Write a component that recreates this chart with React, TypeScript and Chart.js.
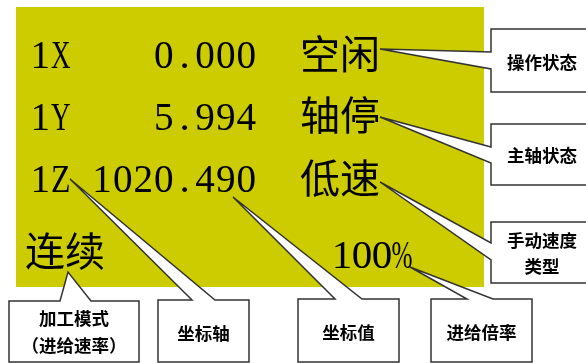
import React, { useEffect, useRef } from "react";
import { Chart, registerables } from "chart.js";

Chart.register(...registerables);

// LCD display content (monospaced rows)
const lcdRows: string[] = ["1X    0.000", "1Y    5.994", "1Z 1020.490"];
const lcdStatus: string[] = ["空闲", "轴停", "低速"];
const lcdMode = "连续";
const lcdOverride = "100%";

// Callout labels
const calloutLabels: string[][] = [
  ["操作状态"],
  ["主轴状态"],
  ["手动速度", "类型"],
  ["进给倍率"],
  ["坐标值"],
  ["坐标轴"],
  ["加工模式", "（进给速率）"],
];

type Callout = {
  box: [number, number, number, number]; // x0,y0,x1,y1
  side: "left" | "top";
  base: [number, number];
  tip: [number, number];
  lines: number[];
};

const calloutLayout: Callout[] = [
  { box: [491, 29, 590, 92], side: "left", base: [52, 69], tip: [380, 49], lines: [62] },
  { box: [491, 124, 590, 185], side: "left", base: [147, 163], tip: [380, 117], lines: [155] },
  { box: [491, 222, 590, 283], side: "left", base: [243, 260], tip: [380, 182], lines: [240, 266] },
  { box: [431, 299, 532, 362], side: "top", base: [467, 493], tip: [410, 267], lines: [332] },
  { box: [298, 299, 399, 362], side: "top", base: [335, 362], tip: [233, 197], lines: [332] },
  { box: [158, 300, 249, 362], side: "top", base: [192, 215], tip: [70, 179], lines: [333] },
  { box: [9, 301, 139, 362], side: "top", base: [60, 91], tip: [68, 272], lines: [318, 345] },
];

export default function App() {
  const ref = useRef<HTMLCanvasElement | null>(null);

  useEffect(() => {
    document.body.style.margin = "0";
    const canvas = ref.current!;
    const drawPlugin = {
      id: "lcdDiagram",
      beforeDraw(chart: any) {
        const ctx = chart.ctx as CanvasRenderingContext2D;
        const xs = chart.scales.x;
        const ys = chart.scales.y;
        const X = (v: number) => xs.getPixelForValue(v);
        const Y = (v: number) => ys.getPixelForValue(v);
        ctx.save();
        ctx.fillStyle = "#ffffff";
        ctx.fillRect(0, 0, chart.width, chart.height);

        // LCD panel
        ctx.fillStyle = "#CCCC00";
        ctx.fillRect(X(16), Y(7), X(484) - X(16), Y(287) - Y(7));

        // Monospaced serif rows
        ctx.fillStyle = "#000";
        ctx.textBaseline = "alphabetic";
        ctx.textAlign = "center";
        ctx.font = "41px 'Liberation Serif'";
        const step = 20.6;
        const baselines = [68, 130, 192];
        lcdRows.forEach((row, i) => {
          for (let c = 0; c < row.length; c++) {
            const ch = row[c];
            if (ch === " ") continue;
            ctx.fillText(ch, X(30 + step * c + step / 2), Y(baselines[i]), step * 0.95);
          }
        });
        for (let c = 0; c < lcdOverride.length; c++) {
          ctx.fillText(lcdOverride[c], X(332 + 20 * c + 10), Y(268), 21);
        }

        // Chinese status
        ctx.textAlign = "left";
        ctx.textBaseline = "middle";
        ctx.font = "40px 'Noto Sans CJK SC'";
        const statusY = [54, 115, 178];
        lcdStatus.forEach((s, i) => ctx.fillText(s, X(300), Y(statusY[i])));
        ctx.fillText(lcdMode, X(25), Y(251));

        // Callouts
        ctx.lineWidth = 1.5;
        ctx.strokeStyle = "#333";
        calloutLayout.forEach((co, i) => {
          const [x0, y0, x1, y1] = co.box;
          ctx.beginPath();
          if (co.side === "left") {
            ctx.moveTo(X(x0), Y(y0));
            ctx.lineTo(X(x1), Y(y0));
            ctx.lineTo(X(x1), Y(y1));
            ctx.lineTo(X(x0), Y(y1));
            ctx.lineTo(X(x0), Y(co.base[1]));
            ctx.lineTo(X(co.tip[0]), Y(co.tip[1]));
            ctx.lineTo(X(x0), Y(co.base[0]));
          } else {
            ctx.moveTo(X(x0), Y(y0));
            ctx.lineTo(X(co.base[0]), Y(y0));
            ctx.lineTo(X(co.tip[0]), Y(co.tip[1]));
            ctx.lineTo(X(co.base[1]), Y(y0));
            ctx.lineTo(X(x1), Y(y0));
            ctx.lineTo(X(x1), Y(y1));
            ctx.lineTo(X(x0), Y(y1));
          }
          ctx.closePath();
          ctx.fillStyle = "#fff";
          ctx.fill();
          ctx.stroke();

          const centerX = co.side === "left" ? 542 : (x0 + x1) / 2;
          ctx.fillStyle = "#000";
          ctx.textAlign = "center";
          ctx.textBaseline = "middle";
          ctx.font = "bold 17.5px 'Noto Sans CJK SC'";
          calloutLabels[i].forEach((t, k) => {
            ctx.fillText(t, X(centerX), Y(co.lines[k]));
          });
        });
        ctx.restore();
      },
    };

    const chart = new Chart(canvas, {
      type: "scatter",
      data: { datasets: [{ data: [], pointRadius: 0 }] },
      options: {
        animation: false,
        responsive: false,
        devicePixelRatio: 1,
        layout: { padding: 0 },
        plugins: { legend: { display: false }, tooltip: { enabled: false } },
        scales: {
          x: { type: "linear", min: 0, max: 586, display: false },
          y: { type: "linear", min: 0, max: 363, reverse: true, display: false },
        },
      },
      plugins: [drawPlugin],
    });
    return () => chart.destroy();
  }, []);

  return (
    <div style={{ width: 586, height: 363 }}>
      <canvas ref={ref} width={586} height={363} style={{ display: "block" }} />
    </div>
  );
}
